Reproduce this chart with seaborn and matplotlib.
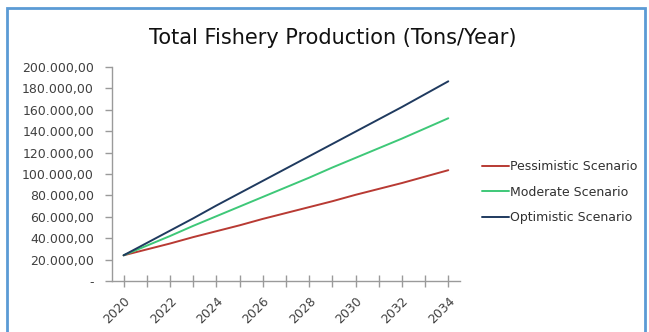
import pandas as pd
import matplotlib.pyplot as plt
import matplotlib.ticker as mticker
from matplotlib.patches import Rectangle
import seaborn as sns

# data
years = list(range(2020, 2035))
pessimistic = [24000, 29500, 35000, 41000, 46500, 52000, 58000, 63500,
               69000, 74500, 80500, 86000, 91500, 97500, 103500]
moderate = [24000, 33000, 42000, 51500, 60500, 69500, 78500, 87500,
            96500, 106000, 115000, 124000, 133000, 142500, 152000]
optimistic = [24000, 35500, 47000, 58500, 70500, 82000, 93500, 105000,
              116500, 128000, 139500, 151000, 162500, 174500, 186500]
scenarios = ['Pessimistic Scenario', 'Moderate Scenario', 'Optimistic Scenario']
colors = ['#B83A33', '#3EC878', '#1F3A5F']

df = pd.DataFrame({
    'Year': years * 3,
    'Production': pessimistic + moderate + optimistic,
    'Scenario': [s for s in scenarios for _ in years],
})

sns.set_style('white')
plt.rcParams['font.family'] = ['DejaVu Sans']

fig = plt.figure(figsize=(6.49, 3.32), dpi=100)
ax = fig.add_axes([0.1726, 0.1536, 0.536, 0.645])

sns.lineplot(data=df, x='Year', y='Production', hue='Scenario',
             palette=colors, hue_order=scenarios, linewidth=1.4, ax=ax)

# y axis in european number format, zero as "-"
def fmt(v, pos):
    if v == 0:
        return '-'
    return f"{v:,.2f}".replace(',', 'X').replace('.', ',').replace('X', '.')

ax.set_ylim(0, 200000)
ax.yaxis.set_major_locator(mticker.MultipleLocator(20000))
ax.yaxis.set_major_formatter(mticker.FuncFormatter(fmt))
ax.set_xlim(2019.5, 2034.5)
ax.set_xticks(years)
ax.set_xticklabels([str(y) if y % 2 == 0 else '' for y in years],
                   rotation=45, ha='right', rotation_mode='anchor')
ax.set_xlabel('')
ax.set_ylabel('')

for s in ['top', 'right']:
    ax.spines[s].set_visible(False)
for s in ['left', 'bottom']:
    ax.spines[s].set_color('#9a9a9a')
    ax.spines[s].set_linewidth(1)
ax.tick_params(axis='y', direction='out', length=5, width=1, color='#9a9a9a',
               labelsize=9, labelcolor='#404040', pad=8, left=True)
ax.tick_params(axis='x', direction='inout', length=9, width=1, color='#9a9a9a',
               labelsize=9, labelcolor='#404040', pad=5, bottom=True)

fig.suptitle('Total Fishery Production (Tons/Year)', x=0.513, y=0.915,
             fontsize=15, color='#111111')

ax.legend(loc='center left', bbox_to_anchor=(1.03, 0.415), frameon=False,
          fontsize=9, handlelength=2.2, handletextpad=0.05, labelspacing=1.0,
          labelcolor='#303030')

# light blue frame around the chart
fig.patches.append(Rectangle((7 / 649, -0.1), 638 / 649, 1 - 8 / 332 + 0.1,
                             transform=fig.transFigure, fill=False,
                             edgecolor='#5B9BD5', linewidth=2))

plt.savefig('out.png', dpi=100)
